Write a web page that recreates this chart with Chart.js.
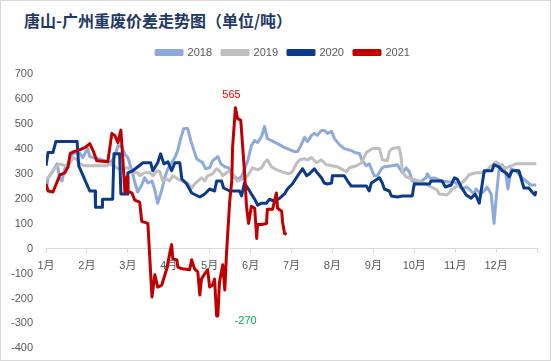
<!DOCTYPE html>
<html>
<head>
<meta charset="utf-8">
<script src="https://cdn.jsdelivr.net/npm/chart.js@4/dist/chart.umd.min.js"></script>
<style>
  body { margin: 0; background: #fff; }
  #wrap { position: relative; width: 551px; height: 361px; box-sizing: border-box; border: 1px solid #d9d9d9; background: #fff; }
  #title { position: absolute; left: 23px; top: 7px; font: bold 16px "Noto Sans CJK SC", sans-serif; color: #1f3864; white-space: nowrap; }
  canvas { position: absolute; left: 0; top: 0; }
</style>
</head>
<body>
<div id="wrap">
  <div id="title">唐山-广州重废价差走势图（单位/吨）</div>
  <canvas id="chart" width="549" height="359"></canvas>
</div>
<script>
// x = month position (0 = 1月 start), y = price spread (元/吨)
const months = ['1月', '2月', '3月', '4月', '5月', '6月', '7月', '8月', '9月', '10月', '11月', '12月'];
const seriesNames = ['2018', '2019', '2020', '2021'];

const s2018 = [[0.00,231],[0.05,284],[0.17,312],[0.27,340],[0.34,279],[0.39,271],[0.46,320],[0.54,340],[0.63,377],[0.73,385],[0.83,381],[0.90,365],[0.95,381],[1.02,401],[1.07,369],[1.15,365],[1.27,360],[1.44,352],[1.56,344],[1.66,360],[1.76,413],[1.85,409],[1.93,377],[2.00,365],[2.10,312],[2.17,267],[2.24,227],[2.34,255],[2.41,284],[2.49,263],[2.59,271],[2.66,235],[2.73,182],[2.83,235],[2.90,284],[2.98,320],[3.07,344],[3.15,365],[3.22,393],[3.29,441],[3.37,482],[3.46,482],[3.54,433],[3.61,397],[3.68,360],[3.83,344],[3.90,320],[4.00,324],[4.07,352],[4.20,369],[4.27,340],[4.37,328],[4.46,324],[4.54,304],[4.61,288],[4.68,279],[4.78,288],[4.85,320],[4.93,352],[5.02,413],[5.10,433],[5.17,425],[5.27,450],[5.34,490],[5.41,441],[5.51,433],[5.66,421],[5.83,405],[5.90,401],[6.07,389],[6.15,389],[6.24,417],[6.32,446],[6.39,429],[6.49,454],[6.56,462],[6.63,454],[6.73,474],[6.80,474],[6.88,462],[6.98,470],[7.05,441],[7.17,417],[7.29,401],[7.46,393],[7.54,385],[7.66,381],[7.73,352],[7.83,332],[7.90,340],[7.95,320],[8.02,292],[8.10,292],[8.20,320],[8.27,328],[8.46,332],[8.59,336],[8.63,324],[8.71,304],[8.80,324],[8.88,308],[8.95,271],[9.05,263],[9.17,271],[9.29,284],[9.32,300],[9.41,279],[9.49,284],[9.66,271],[9.85,267],[9.98,267],[10.05,259],[10.17,239],[10.27,247],[10.34,239],[10.46,219],[10.51,239],[10.63,219],[10.71,231],[10.78,247],[10.88,219],[10.95,101],[11.00,198],[11.07,316],[11.15,336],[11.24,296],[11.29,239],[11.37,320],[11.49,312],[11.61,288],[11.76,267],[11.85,255],[11.98,255]];

const s2019 = [[0.00,279],[0.10,292],[0.22,324],[0.34,340],[0.46,332],[0.59,344],[0.66,365],[0.76,356],[0.83,340],[0.95,332],[1.27,332],[1.49,332],[1.56,340],[1.66,332],[1.76,320],[1.88,320],[2.00,324],[2.12,304],[2.24,304],[2.29,292],[2.41,304],[2.54,304],[2.61,292],[2.71,312],[2.78,308],[2.85,271],[2.95,279],[3.02,271],[3.10,292],[3.22,279],[3.32,271],[3.46,263],[3.56,243],[3.63,259],[3.71,271],[3.80,284],[3.88,271],[3.95,292],[4.07,300],[4.17,320],[4.24,312],[4.32,292],[4.41,304],[4.49,312],[4.61,284],[4.68,271],[4.80,279],[4.93,292],[5.05,324],[5.17,316],[5.27,324],[5.34,344],[5.41,356],[5.51,328],[5.59,320],[5.71,312],[5.83,304],[5.95,300],[6.02,308],[6.12,340],[6.20,356],[6.32,360],[6.39,356],[6.49,365],[6.61,344],[6.73,356],[6.85,336],[6.98,332],[7.12,328],[7.22,320],[7.34,308],[7.41,324],[7.59,332],[7.71,344],[7.83,385],[7.98,401],[8.15,401],[8.22,356],[8.34,352],[8.39,389],[8.46,401],[8.63,405],[8.68,365],[8.71,308],[8.80,288],[8.95,279],[9.12,271],[9.29,259],[9.41,247],[9.56,235],[9.61,219],[9.80,215],[9.85,223],[9.93,239],[10.05,251],[10.22,271],[10.34,296],[10.51,304],[10.71,304],[10.88,332],[11.00,348],[11.12,332],[11.24,324],[11.49,340],[11.73,340],[11.98,340]];

const s2020 = [[0.00,332],[0.05,385],[0.17,385],[0.24,429],[0.76,429],[0.80,332],[1.07,231],[1.20,231],[1.21,166],[1.37,166],[1.38,198],[1.63,198],[1.66,380],[1.80,380],[1.83,219],[1.98,219],[2.00,304],[2.12,312],[2.37,344],[2.56,344],[2.61,312],[2.73,344],[2.80,380],[2.88,340],[2.98,348],[3.07,312],[3.15,344],[3.27,344],[3.32,279],[3.44,259],[3.56,223],[3.76,207],[3.88,219],[4.00,239],[4.12,231],[4.17,271],[4.29,271],[4.34,243],[4.49,231],[4.73,231],[4.78,211],[4.85,263],[4.93,243],[5.02,219],[5.10,198],[5.17,174],[5.27,182],[5.39,182],[5.46,198],[5.59,190],[5.71,202],[5.83,219],[5.90,239],[6.02,259],[6.12,284],[6.20,304],[6.27,320],[6.37,292],[6.44,300],[6.56,320],[6.63,304],[6.73,284],[6.80,263],[6.88,259],[6.98,263],[7.00,292],[7.29,292],[7.37,271],[7.46,251],[7.83,251],[7.90,231],[7.95,263],[8.15,284],[8.22,263],[8.27,239],[8.39,231],[8.44,211],[8.59,207],[8.71,211],[8.95,211],[9.00,259],[9.37,259],[9.41,271],[9.68,271],[9.76,247],[9.90,255],[9.98,284],[10.05,279],[10.15,247],[10.27,215],[10.39,202],[10.49,219],[10.59,182],[10.71,312],[10.90,312],[10.95,336],[11.07,328],[11.15,312],[11.24,304],[11.32,288],[11.39,312],[11.56,312],[11.63,271],[11.68,243],[11.80,243],[11.88,227],[11.95,215],[11.98,231]];

const s2021 = [[0.00,259],[0.05,231],[0.17,227],[0.27,267],[0.34,296],[0.46,304],[0.54,328],[0.59,381],[0.68,389],[0.83,397],[0.95,405],[1.07,421],[1.15,393],[1.24,352],[1.51,348],[1.56,405],[1.61,462],[1.68,454],[1.76,425],[1.83,475],[1.88,352],[1.93,223],[1.98,288],[2.00,231],[2.10,223],[2.17,194],[2.29,186],[2.34,109],[2.49,101],[2.59,-194],[2.66,-105],[2.73,-154],[2.83,-146],[2.95,-81],[3.07,16],[3.10,-41],[3.20,-45],[3.22,-73],[3.32,-81],[3.51,-85],[3.56,-45],[3.63,-81],[3.71,-93],[3.76,-186],[3.80,-122],[3.88,-101],[3.95,-85],[4.00,-154],[4.07,-146],[4.12,-122],[4.17,-270],[4.20,-270],[4.24,-134],[4.32,-65],[4.37,-166],[4.41,-24],[4.49,190],[4.54,271],[4.56,405],[4.63,565],[4.68,522],[4.76,514],[4.85,312],[4.90,170],[4.95,101],[5.02,170],[5.10,162],[5.15,41],[5.17,97],[5.27,97],[5.39,101],[5.41,158],[5.54,158],[5.63,223],[5.66,162],[5.76,150],[5.78,109],[5.83,61],[5.88,57]];

// annotated extremes of 2021
const peak2021 = [4.63, 565];
const low2021 = [4.17, -270];

const colors = ['#8eaadb', '#bfbfbf', '#0b3a8c', '#c00000'];
const allSeries = [s2018, s2019, s2020, s2021];

// extra space under the legend, and nudge it right to sit over the plot
const legendPlace = {
    id: 'legendPlace',
    beforeInit(chart) {
        const fit = chart.legend.fit;
        chart.legend.fit = function () {
            fit.bind(chart.legend)();
            this.height += 6;
        };
    },
    afterLayout(chart) {
        chart.legend.left += 14;
        chart.legend.right += 14;
    }
};

// value labels at the 2021 extremes
const extremeLabels = {
    id: 'extremeLabels',
    afterDatasetsDraw(chart) {
        const { ctx, scales: { x, y } } = chart;
        ctx.save();
        ctx.font = '11px "Liberation Sans", Arial, sans-serif';
        ctx.textAlign = 'center';
        ctx.textBaseline = 'middle';
        ctx.fillStyle = '#ff0000';
        ctx.fillText(String(peak2021[1]), x.getPixelForValue(peak2021[0]) - 4, y.getPixelForValue(peak2021[1]) - 13);
        ctx.fillStyle = '#00b050';
        ctx.fillText(String(low2021[1]), x.getPixelForValue(low2021[0]) + 29, y.getPixelForValue(low2021[1]) + 5);
        ctx.restore();
    }
};

new Chart(document.getElementById('chart'), {
    type: 'line',
    data: {
        datasets: seriesNames.map((name, i) => ({
            label: name,
            data: allSeries[i],
            borderColor: colors[i],
            backgroundColor: colors[i],
            borderWidth: 3,
            borderJoinStyle: 'round',
            pointRadius: 0,
            tension: 0,
            order: 4 - i
        }))
    },
    options: {
        responsive: false,
        animation: false,
        devicePixelRatio: 1,
        layout: { padding: { top: 36, left: 0, right: 13, bottom: 9 } },
        plugins: {
            tooltip: { enabled: false },
            legend: {
                position: 'top',
                labels: {
                    boxWidth: 26,
                    boxHeight: 4,
                    padding: 10,
                    color: '#595959',
                    font: { size: 11, family: '"Liberation Sans", Arial, sans-serif' },
                    sort: (a, b) => a.datasetIndex - b.datasetIndex
                }
            }
        },
        scales: {
            x: {
                type: 'linear',
                min: 0,
                max: 12,
                position: { y: 0 },
                afterFit(axis) { axis.height = 0; },
                grid: { drawOnChartArea: false, drawTicks: true, tickLength: 4, color: '#d9d9d9' },
                border: { color: '#d9d9d9' },
                ticks: {
                    stepSize: 1,
                    padding: 7,
                    maxRotation: 0,
                    autoSkip: false,
                    color: '#595959',
                    font: { size: 11, family: '"Liberation Sans", "Noto Sans CJK SC", sans-serif' },
                    callback: (v) => months[v] || ''
                }
            },
            y: {
                min: -400,
                max: 700,
                afterFit(axis) { axis.width = 45; },
                grid: { display: false },
                border: { display: false },
                ticks: {
                    stepSize: 100,
                    padding: 5,
                    color: '#595959',
                    font: { size: 11, family: '"Liberation Sans", Arial, sans-serif' }
                }
            }
        }
    },
    plugins: [legendPlace, extremeLabels]
});
</script>
</body>
</html>
